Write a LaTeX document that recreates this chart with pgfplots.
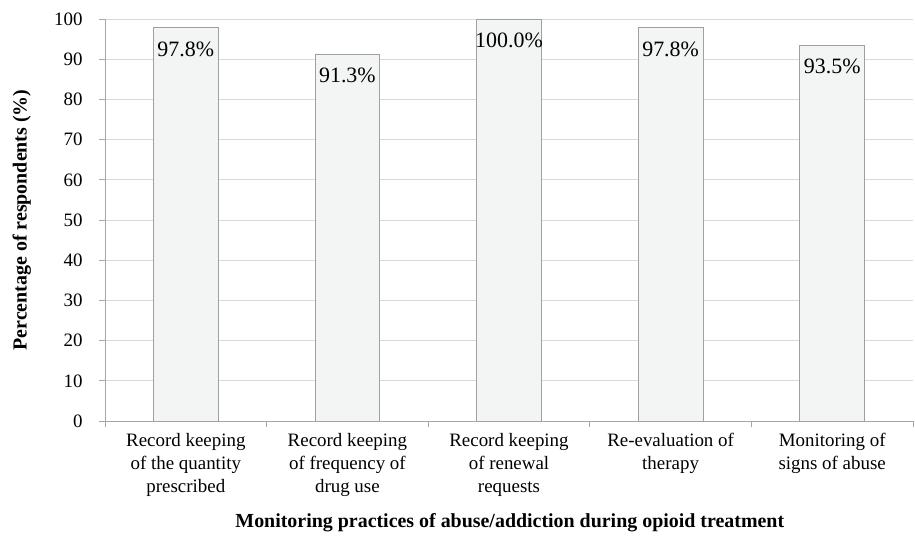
\documentclass[border=0pt]{standalone}
\usepackage{pgfplots}
\pgfplotsset{compat=1.18}
\usepackage{fontspec}
\setmainfont{Liberation Serif}
\definecolor{barfill}{HTML}{F3F4F4}
\definecolor{barline}{HTML}{A0A0A0}
\definecolor{gridc}{HTML}{D9D9D9}
\definecolor{axisc}{HTML}{A6A6A6}
\begin{document}
\begin{tikzpicture}
\useasboundingbox (-105bp,-128bp) rectangle (810bp,421bp);
\begin{axis}[
  scale only axis,
  width=808bp, height=402bp,
  at={(0,0)}, anchor=south west,
  xmin=-0.5, xmax=4.5,
  ymin=0, ymax=100,
  axis x line*=bottom, axis y line*=left,
  axis line style={axisc, line width=0.8pt},
  ytick={0,10,...,100},
  yticklabels={0,10,20,30,40,50,60,70,80,90,100},
  xtick={0,1,2,3,4},
  xticklabels={{Record keeping\\of the quantity\\prescribed},{Record keeping\\of frequency of\\drug use},{Record keeping\\of renewal\\requests},{Re-evaluation of\\therapy},{Monitoring of\\signs of abuse}},
  minor xtick={-0.5,0.5,1.5,2.5,3.5,4.5},
  major x tick style={draw=none},
  minor x tick style={axisc, line width=0.8pt},
  y tick style={axisc, line width=0.8pt},
  tick align=outside,
  major tick length=6bp, minor tick length=6bp,
  ymajorgrids,
  major grid style={gridc, line width=0.8pt},
  xticklabel style={font=\fontsize{19}{23}\selectfont, align=center, yshift=-3bp},
  yticklabel style={font=\fontsize{19}{22}\selectfont, xshift=-13bp},
  xlabel={\textbf{Monitoring practices of abuse/addiction during opioid treatment}},
  ylabel={\textbf{Percentage of respondents (\%)}},
  x label style={font=\fontsize{20}{24}\selectfont, at={(axis description cs:0.501,-0.252)}, anchor=center},
  y label style={font=\fontsize{20}{24}\selectfont, at={(axis description cs:-0.103,0.5)}, anchor=center},
  ybar, bar width=0.4,
  point meta=explicit symbolic,
  nodes near coords,
  every node near coord/.append style={anchor=north, yshift=-10bp, font=\fontsize{22}{26}\selectfont},
  clip=false,
]
\addplot[fill=barfill, draw=barline, line width=0.8pt] coordinates {(0,97.8) [97.8\%] (1,91.3) [91.3\%] (2,100.0) [100.0\%] (3,97.8) [97.8\%] (4,93.5) [93.5\%]};
\end{axis}
\end{tikzpicture}
\end{document}
